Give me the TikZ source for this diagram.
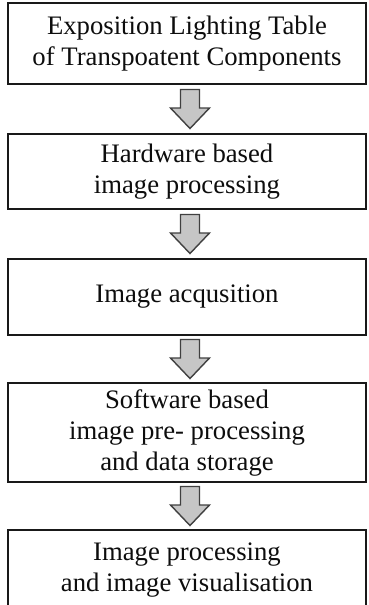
\documentclass[tikz,border=0pt]{standalone}
\usepackage{fontspec}
\setmainfont{Liberation Serif}
\usetikzlibrary{calc}
\begin{document}
\begin{tikzpicture}[x=1pt,y=-1pt,
  box/.style={draw=black!90, line width=1.8pt, fill=white, align=center,
    font=\fontsize{26.7}{31}\selectfont, text=black!95, inner sep=0pt},
  blockarrow/.style={draw=black!75, line width=1.4pt, fill=gray!45, line join=miter}]
\useasboundingbox (0,0) rectangle (368,605);
\clip (0,0) rectangle (368,605);
\node[box, minimum width=358pt, minimum height=81pt] (b1) at (187,43.5)
  {Exposition Lighting Table\\of Transpoatent Components};
\node[box, minimum width=358pt, minimum height=75pt] (b2) at (187,171.5)
  {Hardware based\\image processing};
\node[box, minimum width=358pt, minimum height=76pt] (b3) at (187,297)
  {Image acqusition};
\node[box, minimum width=358pt, minimum height=99pt] (b4) at (187,432.5)
  {Software based\\image pre- processing\\and data storage};
\node[box, minimum width=358pt, minimum height=81pt] (b5) at (187,570.5)
  {Image processing\\and image visualisation};
\foreach \a/\b in {b1/b2,b2/b3,b3/b4,b4/b5}{
  \coordinate (m) at ($(\a.south)!0.5!(\b.north)$);
  \draw[blockarrow] ($(m)+(-6.5,-19.5)$) -- ($(m)+(12.5,-19.5)$)
    -- ($(m)+(12.5,-1)$) -- ($(m)+(22.5,-1)$) -- ($(m)+(3,19.5)$)
    -- ($(m)+(-16.5,-1)$) -- ($(m)+(-6.5,-1)$) -- cycle;
}
\end{tikzpicture}
\end{document}
